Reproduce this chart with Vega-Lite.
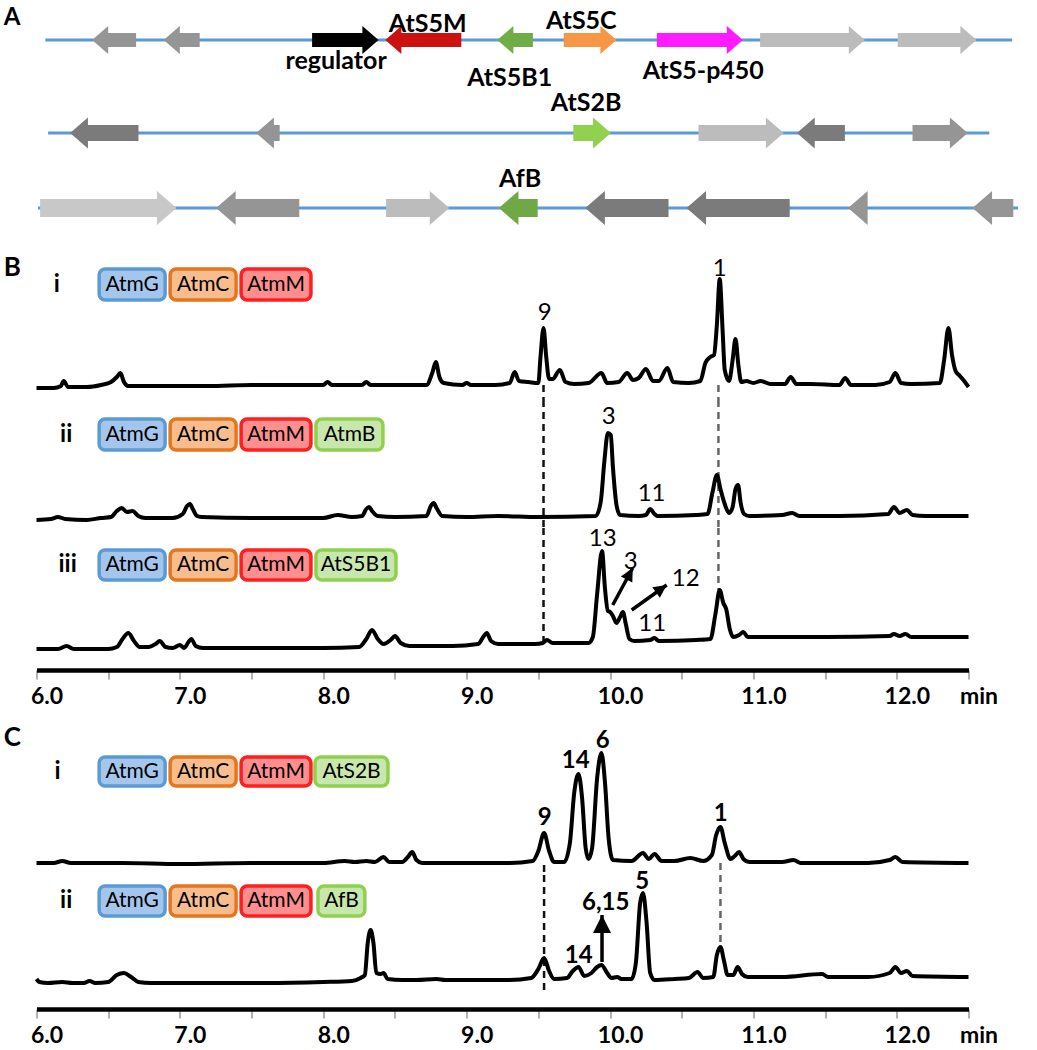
{
"$schema": "https://vega.github.io/schema/vega-lite/v6.json",
"background": "white",
"padding": {"left": 3.5, "right": 0, "top": 0, "bottom": 0},
"autosize": {"type": "pad"},
"bounds": "flush",
"spacing": 0,
"config": {"view": {"stroke": null}, "font": "Lato"},
"resolve": {"scale": {"x": "independent", "y": "independent", "color": "independent", "fill": "independent", "stroke": "independent", "shape": "independent"}},
"datasets": {
"clusters": [{"cluster":"AtS5","x":0.22,"x2":24.39},{"cluster":"AtS2","x":0.29,"x2":23.82},{"cluster":"Af","x":0.04,"x2":24.54}],
"genes": [
{"cluster":"AtS5","kind":"mid","strand":"-","from":2.49,"headAt":1.76,"to":1.39},
{"cluster":"AtS5","kind":"mid","strand":"-","from":4.08,"headAt":3.55,"to":3.18},
{"cluster":"AtS5","kind":"regulator","strand":"+","from":6.89,"headAt":8.18,"to":8.55},
{"cluster":"AtS5","kind":"AtS5M","strand":"-","from":10.62,"headAt":9.09,"to":8.72},
{"cluster":"AtS5","kind":"AtS5B1","strand":"-","from":12.41,"headAt":11.89,"to":11.52},
{"cluster":"AtS5","kind":"AtS5C","strand":"+","from":13.18,"headAt":14.13,"to":14.5},
{"cluster":"AtS5","kind":"AtS5-p450","strand":"+","from":15.51,"headAt":17.29,"to":17.66},
{"cluster":"AtS5","kind":"light","strand":"+","from":18.09,"headAt":20.34,"to":20.71},
{"cluster":"AtS5","kind":"light","strand":"+","from":21.53,"headAt":23.13,"to":23.5},
{"cluster":"AtS2","kind":"dark","strand":"-","from":2.55,"headAt":1.21,"to":0.84},
{"cluster":"AtS2","kind":"mid","strand":"-","from":6.08,"headAt":5.86,"to":5.49},
{"cluster":"AtS2","kind":"AtS2B","strand":"+","from":13.42,"headAt":13.99,"to":14.36},
{"cluster":"AtS2","kind":"light","strand":"+","from":16.55,"headAt":18.31,"to":18.68},
{"cluster":"AtS2","kind":"dark","strand":"-","from":20.21,"headAt":19.38,"to":19.01},
{"cluster":"AtS2","kind":"mid","strand":"+","from":21.9,"headAt":22.91,"to":23.28},
{"cluster":"Af","kind":"pale","strand":"+","from":0.09,"headAt":3.13,"to":3.5},
{"cluster":"Af","kind":"mid","strand":"-","from":6.57,"headAt":4.86,"to":4.49},
{"cluster":"Af","kind":"light","strand":"+","from":8.74,"headAt":9.95,"to":10.32},
{"cluster":"Af","kind":"AfB","strand":"-","from":12.53,"headAt":11.93,"to":11.56},
{"cluster":"Af","kind":"dark","strand":"-","from":15.8,"headAt":14.09,"to":13.72},
{"cluster":"Af","kind":"dark","strand":"-","from":18.83,"headAt":16.62,"to":16.25},
{"cluster":"Af","kind":"mid","strand":"-","from":20.74,"headAt":20.66,"to":20.29},
{"cluster":"Af","kind":"mid","strand":"-","from":24.42,"headAt":23.77,"to":23.4}
],
"geneLabels": [
{"cluster":"AtS5","label":"AtS5M","x":9.78,"y":16},
{"cluster":"AtS5","label":"AtS5C","x":13.62,"y":19},
{"cluster":"AtS5","label":"regulator","x":7.49,"y":-21},
{"cluster":"AtS5","label":"AtS5B1","x":11.83,"y":-38},
{"cluster":"AtS5","label":"AtS5-p450","x":16.67,"y":-31},
{"cluster":"AtS2","label":"AtS2B","x":13.74,"y":30},
{"cluster":"Af","label":"AfB","x":12.09,"y":29}
],
"panelA": [{"label":"A","x":-0.82,"y":22}],
"letters": [{"trace":"B-i","label":"B","t":5.7714,"v":117.5},{"trace":"C-i","label":"C","t":5.7714,"v":125.5}],
"rows": [
{"trace":"B-i","label":"i","t":6.141,"v":100.5},
{"trace":"B-ii","label":"ii","t":6.207,"v":82.5},
{"trace":"B-iii","label":"iii","t":6.217,"v":84},
{"trace":"C-i","label":"i","t":6.146,"v":91.5},
{"trace":"C-ii","label":"ii","t":6.207,"v":82}
],
"boxes": [
{"trace":"B-i","gene":"AtmG","t":6.437,"t2":6.897,"tc":6.667,"v":116,"v2":85,"vc":100.5},
{"trace":"B-i","gene":"AtmC","t":6.932,"t2":7.392,"tc":7.162,"v":116,"v2":85,"vc":100.5},
{"trace":"B-i","gene":"AtmM","t":7.427,"t2":7.914,"tc":7.671,"v":116,"v2":85,"vc":100.5},
{"trace":"B-ii","gene":"AtmG","t":6.437,"t2":6.897,"tc":6.667,"v":98,"v2":67,"vc":82.5},
{"trace":"B-ii","gene":"AtmC","t":6.932,"t2":7.392,"tc":7.162,"v":98,"v2":67,"vc":82.5},
{"trace":"B-ii","gene":"AtmM","t":7.427,"t2":7.914,"tc":7.671,"v":98,"v2":67,"vc":82.5},
{"trace":"B-ii","gene":"AtmB","t":7.949,"t2":8.416,"tc":8.183,"v":98,"v2":67,"vc":82.5},
{"trace":"B-iii","gene":"AtmG","t":6.437,"t2":6.897,"tc":6.667,"v":99,"v2":69,"vc":84},
{"trace":"B-iii","gene":"AtmC","t":6.932,"t2":7.392,"tc":7.162,"v":99,"v2":69,"vc":84},
{"trace":"B-iii","gene":"AtmM","t":7.427,"t2":7.914,"tc":7.671,"v":99,"v2":69,"vc":84},
{"trace":"B-iii","gene":"AtS5B1","t":7.949,"t2":8.507,"tc":8.228,"v":99,"v2":69,"vc":84},
{"trace":"C-i","gene":"AtmG","t":6.437,"t2":6.897,"tc":6.667,"v":106,"v2":77,"vc":91.5},
{"trace":"C-i","gene":"AtmC","t":6.932,"t2":7.392,"tc":7.162,"v":106,"v2":77,"vc":91.5},
{"trace":"C-i","gene":"AtmM","t":7.427,"t2":7.914,"tc":7.671,"v":106,"v2":77,"vc":91.5},
{"trace":"C-i","gene":"AtS2B","t":7.942,"t2":8.451,"tc":8.197,"v":106,"v2":77,"vc":91.5},
{"trace":"C-ii","gene":"AtmG","t":6.437,"t2":6.897,"tc":6.667,"v":97,"v2":67,"vc":82},
{"trace":"C-ii","gene":"AtmC","t":6.932,"t2":7.392,"tc":7.162,"v":97,"v2":67,"vc":82},
{"trace":"C-ii","gene":"AtmM","t":7.427,"t2":7.914,"tc":7.671,"v":97,"v2":67,"vc":82},
{"trace":"C-ii","gene":"AfB","t":7.963,"t2":8.29,"tc":8.127,"v":97,"v2":67,"vc":82}
],
"markers": [
{"trace":"B-i","compound":"9","t":9.536,"v":0,"v2":-15},
{"trace":"B-i","compound":"1","t":10.756,"v":0,"v2":-15},
{"trace":"B-ii","compound":"9","t":9.536,"v":117,"v2":-11},
{"trace":"B-ii","compound":"1","t":10.756,"v":117,"v2":-11},
{"trace":"B-iii","compound":"9","t":9.536,"v":121,"v2":6},
{"trace":"B-iii","compound":"1","t":10.756,"v":121,"v2":59},
{"trace":"C-i","compound":"9","t":9.54,"v":-2,"v2":-12},
{"trace":"C-i","compound":"1","t":10.77,"v":0,"v2":-12},
{"trace":"C-ii","compound":"9","t":9.54,"v":108,"v2":-12},
{"trace":"C-ii","compound":"1","t":10.77,"v":108,"v2":36}
],
"peaks": [
{"trace":"B-i","label":"9","t":9.545,"v":72},
{"trace":"B-i","label":"1","t":10.764,"v":116},
{"trace":"B-ii","label":"3","t":9.991,"v":100.5},
{"trace":"B-ii","label":"11","t":10.29,"v":23},
{"trace":"B-iii","label":"13","t":9.949,"v":110},
{"trace":"B-iii","label":"3","t":10.144,"v":87.5},
{"trace":"B-iii","label":"12","t":10.528,"v":70},
{"trace":"B-iii","label":"11","t":10.294,"v":25.5},
{"trace":"C-i","label":"9","t":9.545,"v":45},
{"trace":"C-i","label":"14","t":9.761,"v":102.5},
{"trace":"C-i","label":"6","t":9.949,"v":122.5},
{"trace":"C-i","label":"1","t":10.771,"v":49},
{"trace":"C-ii","label":"14","t":9.782,"v":27.5},
{"trace":"C-ii","label":"6,15","t":9.97,"v":80.5},
{"trace":"C-ii","label":"5","t":10.225,"v":101.5}
],
"arrows": [
{"trace":"B-iii","label":"3","t":10.019,"v":44,"t2":10.158,"v2":81},
{"trace":"B-iii","label":"12","t":10.151,"v":39,"t2":10.395,"v2":64},
{"trace":"C-ii","label":"6,15","t":9.944,"v":21,"t2":9.944,"v2":68}
],
"Bi": [{"t":6,"v":-3},{"t":6.12,"v":-3},{"t":6.17,"v":-1},{"t":6.19,"v":4},{"t":6.22,"v":-2},{"t":6.35,"v":-2},{"t":6.45,"v":0},{"t":6.52,"v":3},{"t":6.56,"v":8},{"t":6.585,"v":12},{"t":6.61,"v":3},{"t":6.64,"v":-1},{"t":6.8,"v":-1},{"t":7.2,"v":-1},{"t":7.5,"v":0},{"t":8,"v":0},{"t":8.03,"v":3},{"t":8.06,"v":0},{"t":8.27,"v":0},{"t":8.3,"v":3},{"t":8.33,"v":0},{"t":8.5,"v":0},{"t":8.72,"v":0},{"t":8.76,"v":12},{"t":8.785,"v":23},{"t":8.81,"v":8},{"t":8.84,"v":2},{"t":8.97,"v":0},{"t":9,"v":2},{"t":9.03,"v":0},{"t":9.2,"v":0},{"t":9.3,"v":2},{"t":9.335,"v":13},{"t":9.365,"v":4},{"t":9.43,"v":3},{"t":9.5,"v":2},{"t":9.515,"v":28},{"t":9.536,"v":57},{"t":9.555,"v":28},{"t":9.575,"v":6},{"t":9.6,"v":6},{"t":9.65,"v":15},{"t":9.69,"v":3},{"t":9.75,"v":1},{"t":9.85,"v":2},{"t":9.94,"v":12},{"t":9.98,"v":2},{"t":10.06,"v":3},{"t":10.12,"v":12},{"t":10.16,"v":5},{"t":10.2,"v":7},{"t":10.25,"v":16},{"t":10.3,"v":4},{"t":10.34,"v":4},{"t":10.4,"v":17},{"t":10.44,"v":3},{"t":10.55,"v":2},{"t":10.63,"v":4},{"t":10.665,"v":22},{"t":10.7,"v":28},{"t":10.725,"v":30},{"t":10.745,"v":60},{"t":10.765,"v":106},{"t":10.785,"v":55},{"t":10.8,"v":15},{"t":10.83,"v":4},{"t":10.855,"v":25},{"t":10.875,"v":46},{"t":10.895,"v":20},{"t":10.915,"v":3},{"t":10.95,"v":4},{"t":11,"v":2},{"t":11.05,"v":4},{"t":11.12,"v":1},{"t":11.22,"v":1},{"t":11.26,"v":8},{"t":11.3,"v":1},{"t":11.4,"v":1},{"t":11.6,"v":0},{"t":11.64,"v":7},{"t":11.68,"v":0},{"t":11.85,"v":0},{"t":11.95,"v":3},{"t":11.99,"v":12},{"t":12.03,"v":2},{"t":12.1,"v":1},{"t":12.3,"v":2},{"t":12.33,"v":25},{"t":12.36,"v":57},{"t":12.385,"v":30},{"t":12.41,"v":14},{"t":12.44,"v":9},{"t":12.47,"v":4},{"t":12.5,"v":-2}],
"Bii": [{"t":6,"v":-3},{"t":6.1,"v":-2},{"t":6.15,"v":0},{"t":6.2,"v":-2},{"t":6.35,"v":-3},{"t":6.45,"v":-1},{"t":6.52,"v":0},{"t":6.56,"v":6},{"t":6.595,"v":9},{"t":6.63,"v":5},{"t":6.67,"v":6},{"t":6.71,"v":1},{"t":6.76,"v":-1},{"t":6.95,"v":-1},{"t":7.02,"v":3},{"t":7.05,"v":11},{"t":7.07,"v":13},{"t":7.09,"v":8},{"t":7.12,"v":1},{"t":7.15,"v":0},{"t":7.5,"v":-1},{"t":8,"v":-1},{"t":8.1,"v":2},{"t":8.2,"v":0},{"t":8.27,"v":1},{"t":8.3,"v":8},{"t":8.32,"v":10},{"t":8.34,"v":6},{"t":8.38,"v":1},{"t":8.5,"v":0},{"t":8.72,"v":1},{"t":8.75,"v":11},{"t":8.77,"v":14},{"t":8.79,"v":9},{"t":8.83,"v":1},{"t":9,"v":0},{"t":9.22,"v":1},{"t":9.5,"v":0},{"t":9.9,"v":1},{"t":9.935,"v":15},{"t":9.96,"v":55},{"t":9.985,"v":84},{"t":10.005,"v":82},{"t":10.02,"v":50},{"t":10.045,"v":12},{"t":10.07,"v":2},{"t":10.2,"v":1},{"t":10.25,"v":2},{"t":10.28,"v":8},{"t":10.31,"v":3},{"t":10.33,"v":1},{"t":10.6,"v":2},{"t":10.68,"v":3},{"t":10.715,"v":25},{"t":10.745,"v":42},{"t":10.77,"v":28},{"t":10.8,"v":13},{"t":10.83,"v":4},{"t":10.855,"v":10},{"t":10.875,"v":28},{"t":10.893,"v":32},{"t":10.91,"v":15},{"t":10.935,"v":3},{"t":10.97,"v":1},{"t":11.2,"v":2},{"t":11.27,"v":4},{"t":11.32,"v":1},{"t":11.6,"v":1},{"t":11.94,"v":3},{"t":11.98,"v":10},{"t":12.02,"v":4},{"t":12.07,"v":7},{"t":12.11,"v":2},{"t":12.2,"v":1},{"t":12.5,"v":1}],
"Biii": [{"t":6,"v":0},{"t":6.15,"v":0},{"t":6.21,"v":3},{"t":6.26,"v":0},{"t":6.5,"v":0},{"t":6.56,"v":2},{"t":6.6,"v":10},{"t":6.64,"v":16},{"t":6.68,"v":8},{"t":6.72,"v":2},{"t":6.78,"v":2},{"t":6.83,"v":5},{"t":6.86,"v":8},{"t":6.9,"v":2},{"t":6.95,"v":1},{"t":7,"v":4},{"t":7.03,"v":1},{"t":7.06,"v":7},{"t":7.08,"v":10},{"t":7.11,"v":3},{"t":7.16,"v":1},{"t":7.5,"v":1},{"t":8,"v":1},{"t":8.25,"v":2},{"t":8.3,"v":10},{"t":8.34,"v":19},{"t":8.38,"v":10},{"t":8.42,"v":5},{"t":8.47,"v":9},{"t":8.5,"v":13},{"t":8.54,"v":6},{"t":8.6,"v":3},{"t":8.9,"v":3},{"t":9.08,"v":5},{"t":9.12,"v":13},{"t":9.14,"v":16},{"t":9.17,"v":8},{"t":9.22,"v":5},{"t":9.3,"v":5},{"t":9.48,"v":5},{"t":9.53,"v":6},{"t":9.56,"v":9},{"t":9.6,"v":6},{"t":9.85,"v":6},{"t":9.88,"v":12},{"t":9.91,"v":55},{"t":9.944,"v":98},{"t":9.965,"v":60},{"t":9.985,"v":38},{"t":10,"v":37},{"t":10.02,"v":33},{"t":10.045,"v":26},{"t":10.07,"v":32},{"t":10.09,"v":37},{"t":10.11,"v":25},{"t":10.135,"v":10},{"t":10.17,"v":8},{"t":10.28,"v":9},{"t":10.31,"v":11},{"t":10.34,"v":8},{"t":10.6,"v":9},{"t":10.7,"v":10},{"t":10.735,"v":35},{"t":10.765,"v":59},{"t":10.79,"v":46},{"t":10.81,"v":40},{"t":10.835,"v":20},{"t":10.86,"v":12},{"t":10.9,"v":14},{"t":10.93,"v":17},{"t":10.96,"v":12},{"t":11.1,"v":12},{"t":11.5,"v":12},{"t":11.95,"v":13},{"t":11.98,"v":15},{"t":12.02,"v":13},{"t":12.06,"v":15},{"t":12.1,"v":12},{"t":12.5,"v":12}],
"Ci": [{"t":6,"v":0},{"t":6.12,"v":0},{"t":6.18,"v":2},{"t":6.24,"v":0},{"t":6.6,"v":0},{"t":7,"v":-1},{"t":7.5,"v":0},{"t":8,"v":0},{"t":8.15,"v":2},{"t":8.22,"v":1},{"t":8.3,"v":2},{"t":8.36,"v":1},{"t":8.42,"v":6},{"t":8.46,"v":1},{"t":8.55,"v":1},{"t":8.59,"v":6},{"t":8.62,"v":11},{"t":8.65,"v":3},{"t":8.69,"v":0},{"t":9,"v":0},{"t":9.3,"v":0},{"t":9.46,"v":2},{"t":9.5,"v":12},{"t":9.54,"v":30},{"t":9.575,"v":12},{"t":9.61,"v":1},{"t":9.68,"v":1},{"t":9.72,"v":20},{"t":9.75,"v":70},{"t":9.78,"v":89},{"t":9.805,"v":65},{"t":9.83,"v":15},{"t":9.85,"v":4},{"t":9.875,"v":15},{"t":9.91,"v":85},{"t":9.94,"v":110},{"t":9.965,"v":80},{"t":9.99,"v":25},{"t":10.02,"v":3},{"t":10.15,"v":2},{"t":10.23,"v":10},{"t":10.27,"v":4},{"t":10.31,"v":9},{"t":10.36,"v":2},{"t":10.45,"v":2},{"t":10.56,"v":5},{"t":10.65,"v":2},{"t":10.71,"v":8},{"t":10.74,"v":28},{"t":10.77,"v":36},{"t":10.8,"v":20},{"t":10.84,"v":4},{"t":10.87,"v":7},{"t":10.9,"v":11},{"t":10.93,"v":4},{"t":10.97,"v":1},{"t":11.2,"v":1},{"t":11.28,"v":3},{"t":11.33,"v":0},{"t":11.8,"v":0},{"t":11.95,"v":3},{"t":11.99,"v":6},{"t":12.04,"v":1},{"t":12.5,"v":0}],
"Cii": [{"t":6,"v":4},{"t":6.02,"v":1},{"t":6.08,"v":0},{"t":6.18,"v":1},{"t":6.25,"v":0},{"t":6.33,"v":0},{"t":6.37,"v":2},{"t":6.41,"v":0},{"t":6.5,"v":1},{"t":6.56,"v":8},{"t":6.61,"v":10},{"t":6.66,"v":6},{"t":6.71,"v":1},{"t":6.8,"v":0},{"t":7.2,"v":0},{"t":7.6,"v":0},{"t":8,"v":1},{"t":8.2,"v":2},{"t":8.26,"v":5},{"t":8.29,"v":8},{"t":8.31,"v":40},{"t":8.33,"v":53},{"t":8.35,"v":40},{"t":8.37,"v":10},{"t":8.4,"v":9},{"t":8.42,"v":10},{"t":8.45,"v":4},{"t":8.55,"v":3},{"t":8.65,"v":3},{"t":8.79,"v":4},{"t":8.85,"v":3},{"t":9,"v":3},{"t":9.3,"v":3},{"t":9.45,"v":5},{"t":9.5,"v":14},{"t":9.54,"v":25},{"t":9.575,"v":12},{"t":9.61,"v":4},{"t":9.7,"v":5},{"t":9.74,"v":12},{"t":9.78,"v":16},{"t":9.82,"v":7},{"t":9.87,"v":10},{"t":9.91,"v":16},{"t":9.94,"v":18},{"t":9.98,"v":10},{"t":10.01,"v":5},{"t":10.05,"v":6},{"t":10.08,"v":4},{"t":10.15,"v":4},{"t":10.18,"v":20},{"t":10.21,"v":80},{"t":10.23,"v":90},{"t":10.255,"v":60},{"t":10.28,"v":10},{"t":10.31,"v":3},{"t":10.45,"v":4},{"t":10.55,"v":5},{"t":10.61,"v":11},{"t":10.65,"v":5},{"t":10.72,"v":6},{"t":10.745,"v":28},{"t":10.77,"v":36},{"t":10.795,"v":22},{"t":10.82,"v":8},{"t":10.86,"v":8},{"t":10.89,"v":16},{"t":10.92,"v":9},{"t":10.96,"v":6},{"t":11.2,"v":6},{"t":11.48,"v":9},{"t":11.52,"v":6},{"t":11.8,"v":6},{"t":11.95,"v":10},{"t":11.99,"v":16},{"t":12.03,"v":10},{"t":12.07,"v":12},{"t":12.11,"v":7},{"t":12.5,"v":6}]
},
"vconcat": [
{
"width": 990, "height": 86,
"layer": [
{"data": {"name": "clusters"}, "transform": [{"filter": "datum.cluster == 'AtS5'"}],
 "mark": {"type": "rule", "color": "#5b9bd5", "strokeWidth": 3},
 "encoding": {"x": {"field": "x", "type": "quantitative", "scale": {"domain": [0, 24.75], "nice": false, "zero": false}, "axis": null}, "x2": {"field": "x2"},
  "y": {"datum": 0, "type": "quantitative", "scale": {"domain": [-46, 40], "nice": false, "zero": false}, "axis": null}}},
{"data": {"name": "genes"}, "transform": [{"filter": "datum.cluster == 'AtS5'"}],
 "mark": {"type": "rule", "strokeWidth": 14},
 "encoding": {"x": {"field": "from", "type": "quantitative", "scale": {"domain": [0, 24.75], "nice": false, "zero": false}, "axis": null}, "x2": {"field": "headAt"},
  "y": {"datum": 0, "type": "quantitative", "scale": {"domain": [-46, 40], "nice": false, "zero": false}, "axis": null},
  "color": {"field": "kind", "type": "nominal", "legend": null, "scale": {"domain": ["regulator","AtS5M","AtS5B1","AtS5C","AtS5-p450","AtS2B","AfB","dark","mid","light","pale"], "range": ["#000000","#cc1111","#70ad47","#f79646","#ff1aff","#92d050","#6fa844","#7b7b7b","#959595","#bcbcbc","#c8c8c8"]}}}},
{"data": {"name": "genes"}, "transform": [{"filter": "datum.cluster == 'AtS5'"}],
 "mark": {"type": "point", "filled": true, "opacity": 1, "size": 784},
 "encoding": {"x": {"field": "to", "type": "quantitative", "scale": {"domain": [0, 24.75], "nice": false, "zero": false}, "axis": null},
  "y": {"datum": 0, "type": "quantitative", "scale": {"domain": [-46, 40], "nice": false, "zero": false}, "axis": null},
  "shape": {"field": "strand", "type": "nominal", "legend": null, "scale": {"domain": ["+", "-"], "range": ["M0,0L-1.15,-1L-1.15,1Z", "M0,0L1.15,-1L1.15,1Z"]}},
  "color": {"field": "kind", "type": "nominal", "legend": null, "scale": {"domain": ["regulator","AtS5M","AtS5B1","AtS5C","AtS5-p450","AtS2B","AfB","dark","mid","light","pale"], "range": ["#000000","#cc1111","#70ad47","#f79646","#ff1aff","#92d050","#6fa844","#7b7b7b","#959595","#bcbcbc","#c8c8c8"]}}}},
{"data": {"name": "geneLabels"}, "transform": [{"filter": "datum.cluster == 'AtS5'"}],
 "mark": {"type": "text", "font": "Lato", "fontSize": 25, "fontWeight": "bold", "color": "#000", "baseline": "middle"},
 "encoding": {"x": {"field": "x", "type": "quantitative", "scale": {"domain": [0, 24.75], "nice": false, "zero": false}, "axis": null},
  "y": {"field": "y", "type": "quantitative", "scale": {"domain": [-46, 40], "nice": false, "zero": false}, "axis": null},
  "text": {"field": "label"}}},
{"data": {"name": "panelA"},
 "mark": {"type": "text", "font": "Lato", "fontSize": 24, "fontWeight": "bold", "color": "#000", "baseline": "middle", "align": "left"},
 "encoding": {"x": {"field": "x", "type": "quantitative", "scale": {"domain": [0, 24.75], "nice": false, "zero": false}, "axis": null},
  "y": {"field": "y", "type": "quantitative", "scale": {"domain": [-46, 40], "nice": false, "zero": false}, "axis": null},
  "text": {"field": "label"}}}
]
},
{
"width": 990, "height": 82,
"layer": [
{"data": {"name": "clusters"}, "transform": [{"filter": "datum.cluster == 'AtS2'"}],
 "mark": {"type": "rule", "color": "#5b9bd5", "strokeWidth": 3},
 "encoding": {"x": {"field": "x", "type": "quantitative", "scale": {"domain": [0, 24.75], "nice": false, "zero": false}, "axis": null}, "x2": {"field": "x2"},
  "y": {"datum": 0, "type": "quantitative", "scale": {"domain": [-35, 47], "nice": false, "zero": false}, "axis": null}}},
{"data": {"name": "genes"}, "transform": [{"filter": "datum.cluster == 'AtS2'"}],
 "mark": {"type": "rule", "strokeWidth": 16},
 "encoding": {"x": {"field": "from", "type": "quantitative", "scale": {"domain": [0, 24.75], "nice": false, "zero": false}, "axis": null}, "x2": {"field": "headAt"},
  "y": {"datum": 0, "type": "quantitative", "scale": {"domain": [-35, 47], "nice": false, "zero": false}, "axis": null},
  "color": {"field": "kind", "type": "nominal", "legend": null, "scale": {"domain": ["regulator","AtS5M","AtS5B1","AtS5C","AtS5-p450","AtS2B","AfB","dark","mid","light","pale"], "range": ["#000000","#cc1111","#70ad47","#f79646","#ff1aff","#92d050","#6fa844","#7b7b7b","#959595","#bcbcbc","#c8c8c8"]}}}},
{"data": {"name": "genes"}, "transform": [{"filter": "datum.cluster == 'AtS2'"}],
 "mark": {"type": "point", "filled": true, "opacity": 1, "size": 961},
 "encoding": {"x": {"field": "to", "type": "quantitative", "scale": {"domain": [0, 24.75], "nice": false, "zero": false}, "axis": null},
  "y": {"datum": 0, "type": "quantitative", "scale": {"domain": [-35, 47], "nice": false, "zero": false}, "axis": null},
  "shape": {"field": "strand", "type": "nominal", "legend": null, "scale": {"domain": ["+", "-"], "range": ["M0,0L-1.15,-1L-1.15,1Z", "M0,0L1.15,-1L1.15,1Z"]}},
  "color": {"field": "kind", "type": "nominal", "legend": null, "scale": {"domain": ["regulator","AtS5M","AtS5B1","AtS5C","AtS5-p450","AtS2B","AfB","dark","mid","light","pale"], "range": ["#000000","#cc1111","#70ad47","#f79646","#ff1aff","#92d050","#6fa844","#7b7b7b","#959595","#bcbcbc","#c8c8c8"]}}}},
{"data": {"name": "geneLabels"}, "transform": [{"filter": "datum.cluster == 'AtS2'"}],
 "mark": {"type": "text", "font": "Lato", "fontSize": 25, "fontWeight": "bold", "color": "#000", "baseline": "middle"},
 "encoding": {"x": {"field": "x", "type": "quantitative", "scale": {"domain": [0, 24.75], "nice": false, "zero": false}, "axis": null},
  "y": {"field": "y", "type": "quantitative", "scale": {"domain": [-35, 47], "nice": false, "zero": false}, "axis": null},
  "text": {"field": "label"}}}
]
},
{
"width": 990, "height": 60,
"layer": [
{"data": {"name": "clusters"}, "transform": [{"filter": "datum.cluster == 'Af'"}],
 "mark": {"type": "rule", "color": "#5b9bd5", "strokeWidth": 3},
 "encoding": {"x": {"field": "x", "type": "quantitative", "scale": {"domain": [0, 24.75], "nice": false, "zero": false}, "axis": null}, "x2": {"field": "x2"},
  "y": {"datum": 0, "type": "quantitative", "scale": {"domain": [-20, 40], "nice": false, "zero": false}, "axis": null}}},
{"data": {"name": "genes"}, "transform": [{"filter": "datum.cluster == 'Af'"}],
 "mark": {"type": "rule", "strokeWidth": 18},
 "encoding": {"x": {"field": "from", "type": "quantitative", "scale": {"domain": [0, 24.75], "nice": false, "zero": false}, "axis": null}, "x2": {"field": "headAt"},
  "y": {"datum": 0, "type": "quantitative", "scale": {"domain": [-20, 40], "nice": false, "zero": false}, "axis": null},
  "color": {"field": "kind", "type": "nominal", "legend": null, "scale": {"domain": ["regulator","AtS5M","AtS5B1","AtS5C","AtS5-p450","AtS2B","AfB","dark","mid","light","pale"], "range": ["#000000","#cc1111","#70ad47","#f79646","#ff1aff","#92d050","#6fa844","#7b7b7b","#959595","#bcbcbc","#c8c8c8"]}}}},
{"data": {"name": "genes"}, "transform": [{"filter": "datum.cluster == 'Af'"}],
 "mark": {"type": "point", "filled": true, "opacity": 1, "size": 1156},
 "encoding": {"x": {"field": "to", "type": "quantitative", "scale": {"domain": [0, 24.75], "nice": false, "zero": false}, "axis": null},
  "y": {"datum": 0, "type": "quantitative", "scale": {"domain": [-20, 40], "nice": false, "zero": false}, "axis": null},
  "shape": {"field": "strand", "type": "nominal", "legend": null, "scale": {"domain": ["+", "-"], "range": ["M0,0L-1.15,-1L-1.15,1Z", "M0,0L1.15,-1L1.15,1Z"]}},
  "color": {"field": "kind", "type": "nominal", "legend": null, "scale": {"domain": ["regulator","AtS5M","AtS5B1","AtS5C","AtS5-p450","AtS2B","AfB","dark","mid","light","pale"], "range": ["#000000","#cc1111","#70ad47","#f79646","#ff1aff","#92d050","#6fa844","#7b7b7b","#959595","#bcbcbc","#c8c8c8"]}}}},
{"data": {"name": "geneLabels"}, "transform": [{"filter": "datum.cluster == 'Af'"}],
 "mark": {"type": "text", "font": "Lato", "fontSize": 25, "fontWeight": "bold", "color": "#000", "baseline": "middle"},
 "encoding": {"x": {"field": "x", "type": "quantitative", "scale": {"domain": [0, 24.75], "nice": false, "zero": false}, "axis": null},
  "y": {"field": "y", "type": "quantitative", "scale": {"domain": [-20, 40], "nice": false, "zero": false}, "axis": null},
  "text": {"field": "label"}}}
]
},
{
"width": 932, "height": 172,
"layer": [
{"data": {"name": "markers"}, "transform": [{"filter": "datum.trace == 'B-i'"}],
 "mark": {"type": "rule", "strokeDash": [7, 5], "strokeWidth": 2.5},
 "encoding": {"x": {"field": "t", "type": "quantitative", "scale": {"domain": [6, 12.5], "nice": false, "zero": false}, "axis": null},
  "y": {"field": "v", "type": "quantitative", "scale": {"domain": [-15, 157], "nice": false, "zero": false}, "axis": null}, "y2": {"field": "v2"},
  "color": {"field": "compound", "type": "nominal", "legend": null, "scale": {"domain": ["9", "1"], "range": ["#111111", "#666666"]}}}},
{"data": {"name": "Bi"},
 "mark": {"type": "line", "color": "#000", "strokeWidth": 4, "interpolate": "monotone", "strokeJoin": "round"},
 "encoding": {"x": {"field": "t", "type": "quantitative", "scale": {"domain": [6, 12.5], "nice": false, "zero": false}, "axis": null},
  "y": {"field": "v", "type": "quantitative", "scale": {"domain": [-15, 157], "nice": false, "zero": false}, "axis": null}}},
{"data": {"name": "boxes"}, "transform": [{"filter": "datum.trace == 'B-i'"}],
 "mark": {"type": "rect", "cornerRadius": 6, "strokeWidth": 3.5},
 "encoding": {"x": {"field": "t", "type": "quantitative", "scale": {"domain": [6, 12.5], "nice": false, "zero": false}, "axis": null}, "x2": {"field": "t2"},
  "y": {"field": "v", "type": "quantitative", "scale": {"domain": [-15, 157], "nice": false, "zero": false}, "axis": null}, "y2": {"field": "v2"},
  "fill": {"field": "gene", "type": "nominal", "legend": null, "scale": {"domain": ["AtmG","AtmC","AtmM","AtmB","AtS5B1","AtS2B","AfB"], "range": ["#a4c6ec","#f7bd8f","#ff8f8f","#c8e7ad","#c8e7ad","#c8e7ad","#c8e7ad"]}},
  "stroke": {"field": "gene", "type": "nominal", "legend": null, "scale": {"domain": ["AtmG","AtmC","AtmM","AtmB","AtS5B1","AtS2B","AfB"], "range": ["#5b9bd5","#e5761d","#ff1f1f","#8fd14f","#8fd14f","#8fd14f","#8fd14f"]}}}},
{"data": {"name": "boxes"}, "transform": [{"filter": "datum.trace == 'B-i'"}],
 "mark": {"type": "text", "font": "Lato", "fontSize": 21, "color": "#000", "baseline": "middle"},
 "encoding": {"x": {"field": "tc", "type": "quantitative", "scale": {"domain": [6, 12.5], "nice": false, "zero": false}, "axis": null},
  "y": {"field": "vc", "type": "quantitative", "scale": {"domain": [-15, 157], "nice": false, "zero": false}, "axis": null}, "text": {"field": "gene"}}},
{"data": {"name": "peaks"}, "transform": [{"filter": "datum.trace == 'B-i'"}],
 "mark": {"type": "text", "font": "Lato", "fontSize": 24, "color": "#000", "baseline": "middle"},
 "encoding": {"x": {"field": "t", "type": "quantitative", "scale": {"domain": [6, 12.5], "nice": false, "zero": false}, "axis": null},
  "y": {"field": "v", "type": "quantitative", "scale": {"domain": [-15, 157], "nice": false, "zero": false}, "axis": null}, "text": {"field": "label"}}},
{"data": {"name": "rows"}, "transform": [{"filter": "datum.trace == 'B-i'"}],
 "mark": {"type": "text", "font": "Lato", "fontSize": 24, "fontWeight": "bold", "color": "#000", "baseline": "middle"},
 "encoding": {"x": {"field": "t", "type": "quantitative", "scale": {"domain": [6, 12.5], "nice": false, "zero": false}, "axis": null},
  "y": {"field": "v", "type": "quantitative", "scale": {"domain": [-15, 157], "nice": false, "zero": false}, "axis": null}, "text": {"field": "label"}}},
{"data": {"name": "letters"}, "transform": [{"filter": "datum.trace == 'B-i'"}],
 "mark": {"type": "text", "font": "Lato", "fontSize": 26, "fontWeight": "bold", "color": "#000", "baseline": "middle", "align": "left"},
 "encoding": {"x": {"field": "t", "type": "quantitative", "scale": {"domain": [6, 12.5], "nice": false, "zero": false}, "axis": null},
  "y": {"field": "v", "type": "quantitative", "scale": {"domain": [-15, 157], "nice": false, "zero": false}, "axis": null}, "text": {"field": "label"}}}
]
},
{
"width": 932, "height": 128,
"layer": [
{"data": {"name": "markers"}, "transform": [{"filter": "datum.trace == 'B-ii'"}],
 "mark": {"type": "rule", "strokeDash": [7, 5], "strokeWidth": 2.5},
 "encoding": {"x": {"field": "t", "type": "quantitative", "scale": {"domain": [6, 12.5], "nice": false, "zero": false}, "axis": null},
  "y": {"field": "v", "type": "quantitative", "scale": {"domain": [-11, 117], "nice": false, "zero": false}, "axis": null}, "y2": {"field": "v2"},
  "color": {"field": "compound", "type": "nominal", "legend": null, "scale": {"domain": ["9", "1"], "range": ["#111111", "#666666"]}}}},
{"data": {"name": "Bii"},
 "mark": {"type": "line", "color": "#000", "strokeWidth": 4, "interpolate": "monotone", "strokeJoin": "round"},
 "encoding": {"x": {"field": "t", "type": "quantitative", "scale": {"domain": [6, 12.5], "nice": false, "zero": false}, "axis": null},
  "y": {"field": "v", "type": "quantitative", "scale": {"domain": [-11, 117], "nice": false, "zero": false}, "axis": null}}},
{"data": {"name": "boxes"}, "transform": [{"filter": "datum.trace == 'B-ii'"}],
 "mark": {"type": "rect", "cornerRadius": 6, "strokeWidth": 3.5},
 "encoding": {"x": {"field": "t", "type": "quantitative", "scale": {"domain": [6, 12.5], "nice": false, "zero": false}, "axis": null}, "x2": {"field": "t2"},
  "y": {"field": "v", "type": "quantitative", "scale": {"domain": [-11, 117], "nice": false, "zero": false}, "axis": null}, "y2": {"field": "v2"},
  "fill": {"field": "gene", "type": "nominal", "legend": null, "scale": {"domain": ["AtmG","AtmC","AtmM","AtmB","AtS5B1","AtS2B","AfB"], "range": ["#a4c6ec","#f7bd8f","#ff8f8f","#c8e7ad","#c8e7ad","#c8e7ad","#c8e7ad"]}},
  "stroke": {"field": "gene", "type": "nominal", "legend": null, "scale": {"domain": ["AtmG","AtmC","AtmM","AtmB","AtS5B1","AtS2B","AfB"], "range": ["#5b9bd5","#e5761d","#ff1f1f","#8fd14f","#8fd14f","#8fd14f","#8fd14f"]}}}},
{"data": {"name": "boxes"}, "transform": [{"filter": "datum.trace == 'B-ii'"}],
 "mark": {"type": "text", "font": "Lato", "fontSize": 21, "color": "#000", "baseline": "middle"},
 "encoding": {"x": {"field": "tc", "type": "quantitative", "scale": {"domain": [6, 12.5], "nice": false, "zero": false}, "axis": null},
  "y": {"field": "vc", "type": "quantitative", "scale": {"domain": [-11, 117], "nice": false, "zero": false}, "axis": null}, "text": {"field": "gene"}}},
{"data": {"name": "peaks"}, "transform": [{"filter": "datum.trace == 'B-ii'"}],
 "mark": {"type": "text", "font": "Lato", "fontSize": 24, "color": "#000", "baseline": "middle"},
 "encoding": {"x": {"field": "t", "type": "quantitative", "scale": {"domain": [6, 12.5], "nice": false, "zero": false}, "axis": null},
  "y": {"field": "v", "type": "quantitative", "scale": {"domain": [-11, 117], "nice": false, "zero": false}, "axis": null}, "text": {"field": "label"}}},
{"data": {"name": "rows"}, "transform": [{"filter": "datum.trace == 'B-ii'"}],
 "mark": {"type": "text", "font": "Lato", "fontSize": 24, "fontWeight": "bold", "color": "#000", "baseline": "middle"},
 "encoding": {"x": {"field": "t", "type": "quantitative", "scale": {"domain": [6, 12.5], "nice": false, "zero": false}, "axis": null},
  "y": {"field": "v", "type": "quantitative", "scale": {"domain": [-11, 117], "nice": false, "zero": false}, "axis": null}, "text": {"field": "label"}}}
]
},
{
"width": 932, "height": 142,
"layer": [
{"data": {"name": "markers"}, "transform": [{"filter": "datum.trace == 'B-iii'"}],
 "mark": {"type": "rule", "strokeDash": [7, 5], "strokeWidth": 2.5},
 "encoding": {"x": {"field": "t", "type": "quantitative", "scale": {"domain": [6, 12.5], "nice": false, "zero": false}, "axis": {"values": [6,6.5,7,7.5,8,8.5,9,9.5,10,10.5,11,11.5,12,12.5], "labelExpr": "datum.value == 12.5 ? 'min' : (datum.value % 1 == 0 ? format(datum.value, '.1f') : '')", "title": null, "grid": false, "domainColor": "#000", "domainWidth": 4.5, "domainCap": "butt", "tickColor": "#999999", "tickWidth": 1.5, "tickSize": 9, "labelFont": "Lato", "labelFontSize": 23, "labelFontWeight": "bold", "labelColor": "#000", "labelPadding": 6, "labelOffset": 10, "labelFlush": false, "labelOverlap": false, "labelBound": false}},
  "y": {"field": "v", "type": "quantitative", "scale": {"domain": [-21, 121], "nice": false, "zero": false}, "axis": null}, "y2": {"field": "v2"},
  "color": {"field": "compound", "type": "nominal", "legend": null, "scale": {"domain": ["9", "1"], "range": ["#111111", "#666666"]}}}},
{"data": {"name": "Biii"},
 "mark": {"type": "line", "color": "#000", "strokeWidth": 4, "interpolate": "monotone", "strokeJoin": "round"},
 "encoding": {"x": {"field": "t", "type": "quantitative", "scale": {"domain": [6, 12.5], "nice": false, "zero": false}, "axis": {"values": [6,6.5,7,7.5,8,8.5,9,9.5,10,10.5,11,11.5,12,12.5], "labelExpr": "datum.value == 12.5 ? 'min' : (datum.value % 1 == 0 ? format(datum.value, '.1f') : '')", "title": null, "grid": false, "domainColor": "#000", "domainWidth": 4.5, "domainCap": "butt", "tickColor": "#999999", "tickWidth": 1.5, "tickSize": 9, "labelFont": "Lato", "labelFontSize": 23, "labelFontWeight": "bold", "labelColor": "#000", "labelPadding": 6, "labelOffset": 10, "labelFlush": false, "labelOverlap": false, "labelBound": false}},
  "y": {"field": "v", "type": "quantitative", "scale": {"domain": [-21, 121], "nice": false, "zero": false}, "axis": null}}},
{"data": {"name": "boxes"}, "transform": [{"filter": "datum.trace == 'B-iii'"}],
 "mark": {"type": "rect", "cornerRadius": 6, "strokeWidth": 3.5},
 "encoding": {"x": {"field": "t", "type": "quantitative", "scale": {"domain": [6, 12.5], "nice": false, "zero": false}, "axis": {"values": [6,6.5,7,7.5,8,8.5,9,9.5,10,10.5,11,11.5,12,12.5], "labelExpr": "datum.value == 12.5 ? 'min' : (datum.value % 1 == 0 ? format(datum.value, '.1f') : '')", "title": null, "grid": false, "domainColor": "#000", "domainWidth": 4.5, "domainCap": "butt", "tickColor": "#999999", "tickWidth": 1.5, "tickSize": 9, "labelFont": "Lato", "labelFontSize": 23, "labelFontWeight": "bold", "labelColor": "#000", "labelPadding": 6, "labelOffset": 10, "labelFlush": false, "labelOverlap": false, "labelBound": false}}, "x2": {"field": "t2"},
  "y": {"field": "v", "type": "quantitative", "scale": {"domain": [-21, 121], "nice": false, "zero": false}, "axis": null}, "y2": {"field": "v2"},
  "fill": {"field": "gene", "type": "nominal", "legend": null, "scale": {"domain": ["AtmG","AtmC","AtmM","AtmB","AtS5B1","AtS2B","AfB"], "range": ["#a4c6ec","#f7bd8f","#ff8f8f","#c8e7ad","#c8e7ad","#c8e7ad","#c8e7ad"]}},
  "stroke": {"field": "gene", "type": "nominal", "legend": null, "scale": {"domain": ["AtmG","AtmC","AtmM","AtmB","AtS5B1","AtS2B","AfB"], "range": ["#5b9bd5","#e5761d","#ff1f1f","#8fd14f","#8fd14f","#8fd14f","#8fd14f"]}}}},
{"data": {"name": "boxes"}, "transform": [{"filter": "datum.trace == 'B-iii'"}],
 "mark": {"type": "text", "font": "Lato", "fontSize": 21, "color": "#000", "baseline": "middle"},
 "encoding": {"x": {"field": "tc", "type": "quantitative", "scale": {"domain": [6, 12.5], "nice": false, "zero": false}, "axis": {"values": [6,6.5,7,7.5,8,8.5,9,9.5,10,10.5,11,11.5,12,12.5], "labelExpr": "datum.value == 12.5 ? 'min' : (datum.value % 1 == 0 ? format(datum.value, '.1f') : '')", "title": null, "grid": false, "domainColor": "#000", "domainWidth": 4.5, "domainCap": "butt", "tickColor": "#999999", "tickWidth": 1.5, "tickSize": 9, "labelFont": "Lato", "labelFontSize": 23, "labelFontWeight": "bold", "labelColor": "#000", "labelPadding": 6, "labelOffset": 10, "labelFlush": false, "labelOverlap": false, "labelBound": false}},
  "y": {"field": "vc", "type": "quantitative", "scale": {"domain": [-21, 121], "nice": false, "zero": false}, "axis": null}, "text": {"field": "gene"}}},
{"data": {"name": "peaks"}, "transform": [{"filter": "datum.trace == 'B-iii'"}],
 "mark": {"type": "text", "font": "Lato", "fontSize": 24, "color": "#000", "baseline": "middle"},
 "encoding": {"x": {"field": "t", "type": "quantitative", "scale": {"domain": [6, 12.5], "nice": false, "zero": false}, "axis": {"values": [6,6.5,7,7.5,8,8.5,9,9.5,10,10.5,11,11.5,12,12.5], "labelExpr": "datum.value == 12.5 ? 'min' : (datum.value % 1 == 0 ? format(datum.value, '.1f') : '')", "title": null, "grid": false, "domainColor": "#000", "domainWidth": 4.5, "domainCap": "butt", "tickColor": "#999999", "tickWidth": 1.5, "tickSize": 9, "labelFont": "Lato", "labelFontSize": 23, "labelFontWeight": "bold", "labelColor": "#000", "labelPadding": 6, "labelOffset": 10, "labelFlush": false, "labelOverlap": false, "labelBound": false}},
  "y": {"field": "v", "type": "quantitative", "scale": {"domain": [-21, 121], "nice": false, "zero": false}, "axis": null}, "text": {"field": "label"}}},
{"data": {"name": "rows"}, "transform": [{"filter": "datum.trace == 'B-iii'"}],
 "mark": {"type": "text", "font": "Lato", "fontSize": 24, "fontWeight": "bold", "color": "#000", "baseline": "middle"},
 "encoding": {"x": {"field": "t", "type": "quantitative", "scale": {"domain": [6, 12.5], "nice": false, "zero": false}, "axis": {"values": [6,6.5,7,7.5,8,8.5,9,9.5,10,10.5,11,11.5,12,12.5], "labelExpr": "datum.value == 12.5 ? 'min' : (datum.value % 1 == 0 ? format(datum.value, '.1f') : '')", "title": null, "grid": false, "domainColor": "#000", "domainWidth": 4.5, "domainCap": "butt", "tickColor": "#999999", "tickWidth": 1.5, "tickSize": 9, "labelFont": "Lato", "labelFontSize": 23, "labelFontWeight": "bold", "labelColor": "#000", "labelPadding": 6, "labelOffset": 10, "labelFlush": false, "labelOverlap": false, "labelBound": false}},
  "y": {"field": "v", "type": "quantitative", "scale": {"domain": [-21, 121], "nice": false, "zero": false}, "axis": null}, "text": {"field": "label"}}},
{"data": {"name": "arrows"}, "transform": [{"filter": "datum.trace == 'B-iii'"}],
 "mark": {"type": "rule", "color": "#000", "strokeWidth": 3.5},
 "encoding": {"x": {"field": "t", "type": "quantitative", "scale": {"domain": [6, 12.5], "nice": false, "zero": false}, "axis": {"values": [6,6.5,7,7.5,8,8.5,9,9.5,10,10.5,11,11.5,12,12.5], "labelExpr": "datum.value == 12.5 ? 'min' : (datum.value % 1 == 0 ? format(datum.value, '.1f') : '')", "title": null, "grid": false, "domainColor": "#000", "domainWidth": 4.5, "domainCap": "butt", "tickColor": "#999999", "tickWidth": 1.5, "tickSize": 9, "labelFont": "Lato", "labelFontSize": 23, "labelFontWeight": "bold", "labelColor": "#000", "labelPadding": 6, "labelOffset": 10, "labelFlush": false, "labelOverlap": false, "labelBound": false}}, "x2": {"field": "t2"},
  "y": {"field": "v", "type": "quantitative", "scale": {"domain": [-21, 121], "nice": false, "zero": false}, "axis": null}, "y2": {"field": "v2"}}},
{"data": {"name": "arrows"}, "transform": [{"filter": "datum.trace == 'B-iii' && datum.label == '3'"}],
 "mark": {"type": "point", "shape": "M0,0L-0.6,1.2L0.6,1.2Z", "size": 467, "filled": true, "opacity": 1, "color": "#000", "angle": 28},
 "encoding": {"x": {"field": "t2", "type": "quantitative", "scale": {"domain": [6, 12.5], "nice": false, "zero": false}, "axis": {"values": [6,6.5,7,7.5,8,8.5,9,9.5,10,10.5,11,11.5,12,12.5], "labelExpr": "datum.value == 12.5 ? 'min' : (datum.value % 1 == 0 ? format(datum.value, '.1f') : '')", "title": null, "grid": false, "domainColor": "#000", "domainWidth": 4.5, "domainCap": "butt", "tickColor": "#999999", "tickWidth": 1.5, "tickSize": 9, "labelFont": "Lato", "labelFontSize": 23, "labelFontWeight": "bold", "labelColor": "#000", "labelPadding": 6, "labelOffset": 10, "labelFlush": false, "labelOverlap": false, "labelBound": false}},
  "y": {"field": "v2", "type": "quantitative", "scale": {"domain": [-21, 121], "nice": false, "zero": false}, "axis": null}}},
{"data": {"name": "arrows"}, "transform": [{"filter": "datum.trace == 'B-iii' && datum.label == '12'"}],
 "mark": {"type": "point", "shape": "M0,0L-0.6,1.2L0.6,1.2Z", "size": 467, "filled": true, "opacity": 1, "color": "#000", "angle": 54.5},
 "encoding": {"x": {"field": "t2", "type": "quantitative", "scale": {"domain": [6, 12.5], "nice": false, "zero": false}, "axis": {"values": [6,6.5,7,7.5,8,8.5,9,9.5,10,10.5,11,11.5,12,12.5], "labelExpr": "datum.value == 12.5 ? 'min' : (datum.value % 1 == 0 ? format(datum.value, '.1f') : '')", "title": null, "grid": false, "domainColor": "#000", "domainWidth": 4.5, "domainCap": "butt", "tickColor": "#999999", "tickWidth": 1.5, "tickSize": 9, "labelFont": "Lato", "labelFontSize": 23, "labelFontWeight": "bold", "labelColor": "#000", "labelPadding": 6, "labelOffset": 10, "labelFlush": false, "labelOverlap": false, "labelBound": false}},
  "y": {"field": "v2", "type": "quantitative", "scale": {"domain": [-21, 121], "nice": false, "zero": false}, "axis": null}}}
]
},
{
"width": 932, "height": 205,
"layer": [
{"data": {"name": "markers"}, "transform": [{"filter": "datum.trace == 'C-i'"}],
 "mark": {"type": "rule", "strokeDash": [7, 5], "strokeWidth": 2.5},
 "encoding": {"x": {"field": "t", "type": "quantitative", "scale": {"domain": [6, 12.5], "nice": false, "zero": false}, "axis": null},
  "y": {"field": "v", "type": "quantitative", "scale": {"domain": [-12, 193], "nice": false, "zero": false}, "axis": null}, "y2": {"field": "v2"},
  "color": {"field": "compound", "type": "nominal", "legend": null, "scale": {"domain": ["9", "1"], "range": ["#111111", "#666666"]}}}},
{"data": {"name": "Ci"},
 "mark": {"type": "line", "color": "#000", "strokeWidth": 4, "interpolate": "monotone", "strokeJoin": "round"},
 "encoding": {"x": {"field": "t", "type": "quantitative", "scale": {"domain": [6, 12.5], "nice": false, "zero": false}, "axis": null},
  "y": {"field": "v", "type": "quantitative", "scale": {"domain": [-12, 193], "nice": false, "zero": false}, "axis": null}}},
{"data": {"name": "boxes"}, "transform": [{"filter": "datum.trace == 'C-i'"}],
 "mark": {"type": "rect", "cornerRadius": 6, "strokeWidth": 3.5},
 "encoding": {"x": {"field": "t", "type": "quantitative", "scale": {"domain": [6, 12.5], "nice": false, "zero": false}, "axis": null}, "x2": {"field": "t2"},
  "y": {"field": "v", "type": "quantitative", "scale": {"domain": [-12, 193], "nice": false, "zero": false}, "axis": null}, "y2": {"field": "v2"},
  "fill": {"field": "gene", "type": "nominal", "legend": null, "scale": {"domain": ["AtmG","AtmC","AtmM","AtmB","AtS5B1","AtS2B","AfB"], "range": ["#a4c6ec","#f7bd8f","#ff8f8f","#c8e7ad","#c8e7ad","#c8e7ad","#c8e7ad"]}},
  "stroke": {"field": "gene", "type": "nominal", "legend": null, "scale": {"domain": ["AtmG","AtmC","AtmM","AtmB","AtS5B1","AtS2B","AfB"], "range": ["#5b9bd5","#e5761d","#ff1f1f","#8fd14f","#8fd14f","#8fd14f","#8fd14f"]}}}},
{"data": {"name": "boxes"}, "transform": [{"filter": "datum.trace == 'C-i'"}],
 "mark": {"type": "text", "font": "Lato", "fontSize": 21, "color": "#000", "baseline": "middle"},
 "encoding": {"x": {"field": "tc", "type": "quantitative", "scale": {"domain": [6, 12.5], "nice": false, "zero": false}, "axis": null},
  "y": {"field": "vc", "type": "quantitative", "scale": {"domain": [-12, 193], "nice": false, "zero": false}, "axis": null}, "text": {"field": "gene"}}},
{"data": {"name": "peaks"}, "transform": [{"filter": "datum.trace == 'C-i'"}],
 "mark": {"type": "text", "font": "Lato", "fontSize": 24, "fontWeight": "bold", "color": "#000", "baseline": "middle"},
 "encoding": {"x": {"field": "t", "type": "quantitative", "scale": {"domain": [6, 12.5], "nice": false, "zero": false}, "axis": null},
  "y": {"field": "v", "type": "quantitative", "scale": {"domain": [-12, 193], "nice": false, "zero": false}, "axis": null}, "text": {"field": "label"}}},
{"data": {"name": "rows"}, "transform": [{"filter": "datum.trace == 'C-i'"}],
 "mark": {"type": "text", "font": "Lato", "fontSize": 24, "fontWeight": "bold", "color": "#000", "baseline": "middle"},
 "encoding": {"x": {"field": "t", "type": "quantitative", "scale": {"domain": [6, 12.5], "nice": false, "zero": false}, "axis": null},
  "y": {"field": "v", "type": "quantitative", "scale": {"domain": [-12, 193], "nice": false, "zero": false}, "axis": null}, "text": {"field": "label"}}},
{"data": {"name": "letters"}, "transform": [{"filter": "datum.trace == 'C-i'"}],
 "mark": {"type": "text", "font": "Lato", "fontSize": 26, "fontWeight": "bold", "color": "#000", "baseline": "middle", "align": "left"},
 "encoding": {"x": {"field": "t", "type": "quantitative", "scale": {"domain": [6, 12.5], "nice": false, "zero": false}, "axis": null},
  "y": {"field": "v", "type": "quantitative", "scale": {"domain": [-12, 193], "nice": false, "zero": false}, "axis": null}, "text": {"field": "label"}}}
]
},
{
"width": 932, "height": 134,
"layer": [
{"data": {"name": "markers"}, "transform": [{"filter": "datum.trace == 'C-ii'"}],
 "mark": {"type": "rule", "strokeDash": [7, 5], "strokeWidth": 2.5},
 "encoding": {"x": {"field": "t", "type": "quantitative", "scale": {"domain": [6, 12.5], "nice": false, "zero": false}, "axis": {"values": [6,6.5,7,7.5,8,8.5,9,9.5,10,10.5,11,11.5,12,12.5], "labelExpr": "datum.value == 12.5 ? 'min' : (datum.value % 1 == 0 ? format(datum.value, '.1f') : '')", "title": null, "grid": false, "domainColor": "#000", "domainWidth": 4.5, "domainCap": "butt", "tickColor": "#999999", "tickWidth": 1.5, "tickSize": 9, "labelFont": "Lato", "labelFontSize": 23, "labelFontWeight": "bold", "labelColor": "#000", "labelPadding": 6, "labelOffset": 10, "labelFlush": false, "labelOverlap": false, "labelBound": false}},
  "y": {"field": "v", "type": "quantitative", "scale": {"domain": [-26, 108], "nice": false, "zero": false}, "axis": null}, "y2": {"field": "v2"},
  "color": {"field": "compound", "type": "nominal", "legend": null, "scale": {"domain": ["9", "1"], "range": ["#111111", "#666666"]}}}},
{"data": {"name": "Cii"},
 "mark": {"type": "line", "color": "#000", "strokeWidth": 4, "interpolate": "monotone", "strokeJoin": "round"},
 "encoding": {"x": {"field": "t", "type": "quantitative", "scale": {"domain": [6, 12.5], "nice": false, "zero": false}, "axis": {"values": [6,6.5,7,7.5,8,8.5,9,9.5,10,10.5,11,11.5,12,12.5], "labelExpr": "datum.value == 12.5 ? 'min' : (datum.value % 1 == 0 ? format(datum.value, '.1f') : '')", "title": null, "grid": false, "domainColor": "#000", "domainWidth": 4.5, "domainCap": "butt", "tickColor": "#999999", "tickWidth": 1.5, "tickSize": 9, "labelFont": "Lato", "labelFontSize": 23, "labelFontWeight": "bold", "labelColor": "#000", "labelPadding": 6, "labelOffset": 10, "labelFlush": false, "labelOverlap": false, "labelBound": false}},
  "y": {"field": "v", "type": "quantitative", "scale": {"domain": [-26, 108], "nice": false, "zero": false}, "axis": null}}},
{"data": {"name": "boxes"}, "transform": [{"filter": "datum.trace == 'C-ii'"}],
 "mark": {"type": "rect", "cornerRadius": 6, "strokeWidth": 3.5},
 "encoding": {"x": {"field": "t", "type": "quantitative", "scale": {"domain": [6, 12.5], "nice": false, "zero": false}, "axis": {"values": [6,6.5,7,7.5,8,8.5,9,9.5,10,10.5,11,11.5,12,12.5], "labelExpr": "datum.value == 12.5 ? 'min' : (datum.value % 1 == 0 ? format(datum.value, '.1f') : '')", "title": null, "grid": false, "domainColor": "#000", "domainWidth": 4.5, "domainCap": "butt", "tickColor": "#999999", "tickWidth": 1.5, "tickSize": 9, "labelFont": "Lato", "labelFontSize": 23, "labelFontWeight": "bold", "labelColor": "#000", "labelPadding": 6, "labelOffset": 10, "labelFlush": false, "labelOverlap": false, "labelBound": false}}, "x2": {"field": "t2"},
  "y": {"field": "v", "type": "quantitative", "scale": {"domain": [-26, 108], "nice": false, "zero": false}, "axis": null}, "y2": {"field": "v2"},
  "fill": {"field": "gene", "type": "nominal", "legend": null, "scale": {"domain": ["AtmG","AtmC","AtmM","AtmB","AtS5B1","AtS2B","AfB"], "range": ["#a4c6ec","#f7bd8f","#ff8f8f","#c8e7ad","#c8e7ad","#c8e7ad","#c8e7ad"]}},
  "stroke": {"field": "gene", "type": "nominal", "legend": null, "scale": {"domain": ["AtmG","AtmC","AtmM","AtmB","AtS5B1","AtS2B","AfB"], "range": ["#5b9bd5","#e5761d","#ff1f1f","#8fd14f","#8fd14f","#8fd14f","#8fd14f"]}}}},
{"data": {"name": "boxes"}, "transform": [{"filter": "datum.trace == 'C-ii'"}],
 "mark": {"type": "text", "font": "Lato", "fontSize": 21, "color": "#000", "baseline": "middle"},
 "encoding": {"x": {"field": "tc", "type": "quantitative", "scale": {"domain": [6, 12.5], "nice": false, "zero": false}, "axis": {"values": [6,6.5,7,7.5,8,8.5,9,9.5,10,10.5,11,11.5,12,12.5], "labelExpr": "datum.value == 12.5 ? 'min' : (datum.value % 1 == 0 ? format(datum.value, '.1f') : '')", "title": null, "grid": false, "domainColor": "#000", "domainWidth": 4.5, "domainCap": "butt", "tickColor": "#999999", "tickWidth": 1.5, "tickSize": 9, "labelFont": "Lato", "labelFontSize": 23, "labelFontWeight": "bold", "labelColor": "#000", "labelPadding": 6, "labelOffset": 10, "labelFlush": false, "labelOverlap": false, "labelBound": false}},
  "y": {"field": "vc", "type": "quantitative", "scale": {"domain": [-26, 108], "nice": false, "zero": false}, "axis": null}, "text": {"field": "gene"}}},
{"data": {"name": "peaks"}, "transform": [{"filter": "datum.trace == 'C-ii'"}],
 "mark": {"type": "text", "font": "Lato", "fontSize": 24, "fontWeight": "bold", "color": "#000", "baseline": "middle"},
 "encoding": {"x": {"field": "t", "type": "quantitative", "scale": {"domain": [6, 12.5], "nice": false, "zero": false}, "axis": {"values": [6,6.5,7,7.5,8,8.5,9,9.5,10,10.5,11,11.5,12,12.5], "labelExpr": "datum.value == 12.5 ? 'min' : (datum.value % 1 == 0 ? format(datum.value, '.1f') : '')", "title": null, "grid": false, "domainColor": "#000", "domainWidth": 4.5, "domainCap": "butt", "tickColor": "#999999", "tickWidth": 1.5, "tickSize": 9, "labelFont": "Lato", "labelFontSize": 23, "labelFontWeight": "bold", "labelColor": "#000", "labelPadding": 6, "labelOffset": 10, "labelFlush": false, "labelOverlap": false, "labelBound": false}},
  "y": {"field": "v", "type": "quantitative", "scale": {"domain": [-26, 108], "nice": false, "zero": false}, "axis": null}, "text": {"field": "label"}}},
{"data": {"name": "rows"}, "transform": [{"filter": "datum.trace == 'C-ii'"}],
 "mark": {"type": "text", "font": "Lato", "fontSize": 24, "fontWeight": "bold", "color": "#000", "baseline": "middle"},
 "encoding": {"x": {"field": "t", "type": "quantitative", "scale": {"domain": [6, 12.5], "nice": false, "zero": false}, "axis": {"values": [6,6.5,7,7.5,8,8.5,9,9.5,10,10.5,11,11.5,12,12.5], "labelExpr": "datum.value == 12.5 ? 'min' : (datum.value % 1 == 0 ? format(datum.value, '.1f') : '')", "title": null, "grid": false, "domainColor": "#000", "domainWidth": 4.5, "domainCap": "butt", "tickColor": "#999999", "tickWidth": 1.5, "tickSize": 9, "labelFont": "Lato", "labelFontSize": 23, "labelFontWeight": "bold", "labelColor": "#000", "labelPadding": 6, "labelOffset": 10, "labelFlush": false, "labelOverlap": false, "labelBound": false}},
  "y": {"field": "v", "type": "quantitative", "scale": {"domain": [-26, 108], "nice": false, "zero": false}, "axis": null}, "text": {"field": "label"}}},
{"data": {"name": "arrows"}, "transform": [{"filter": "datum.trace == 'C-ii'"}],
 "mark": {"type": "rule", "color": "#000", "strokeWidth": 3.5},
 "encoding": {"x": {"field": "t", "type": "quantitative", "scale": {"domain": [6, 12.5], "nice": false, "zero": false}, "axis": {"values": [6,6.5,7,7.5,8,8.5,9,9.5,10,10.5,11,11.5,12,12.5], "labelExpr": "datum.value == 12.5 ? 'min' : (datum.value % 1 == 0 ? format(datum.value, '.1f') : '')", "title": null, "grid": false, "domainColor": "#000", "domainWidth": 4.5, "domainCap": "butt", "tickColor": "#999999", "tickWidth": 1.5, "tickSize": 9, "labelFont": "Lato", "labelFontSize": 23, "labelFontWeight": "bold", "labelColor": "#000", "labelPadding": 6, "labelOffset": 10, "labelFlush": false, "labelOverlap": false, "labelBound": false}}, "x2": {"field": "t2"},
  "y": {"field": "v", "type": "quantitative", "scale": {"domain": [-26, 108], "nice": false, "zero": false}, "axis": null}, "y2": {"field": "v2"}}},
{"data": {"name": "arrows"}, "transform": [{"filter": "datum.trace == 'C-ii'"}],
 "mark": {"type": "point", "shape": "M0,0L-0.6,1.2L0.6,1.2Z", "size": 900, "filled": true, "opacity": 1, "color": "#000", "angle": 0},
 "encoding": {"x": {"field": "t2", "type": "quantitative", "scale": {"domain": [6, 12.5], "nice": false, "zero": false}, "axis": {"values": [6,6.5,7,7.5,8,8.5,9,9.5,10,10.5,11,11.5,12,12.5], "labelExpr": "datum.value == 12.5 ? 'min' : (datum.value % 1 == 0 ? format(datum.value, '.1f') : '')", "title": null, "grid": false, "domainColor": "#000", "domainWidth": 4.5, "domainCap": "butt", "tickColor": "#999999", "tickWidth": 1.5, "tickSize": 9, "labelFont": "Lato", "labelFontSize": 23, "labelFontWeight": "bold", "labelColor": "#000", "labelPadding": 6, "labelOffset": 10, "labelFlush": false, "labelOverlap": false, "labelBound": false}},
  "y": {"field": "v2", "type": "quantitative", "scale": {"domain": [-26, 108], "nice": false, "zero": false}, "axis": null}}}
]
}
]
}
